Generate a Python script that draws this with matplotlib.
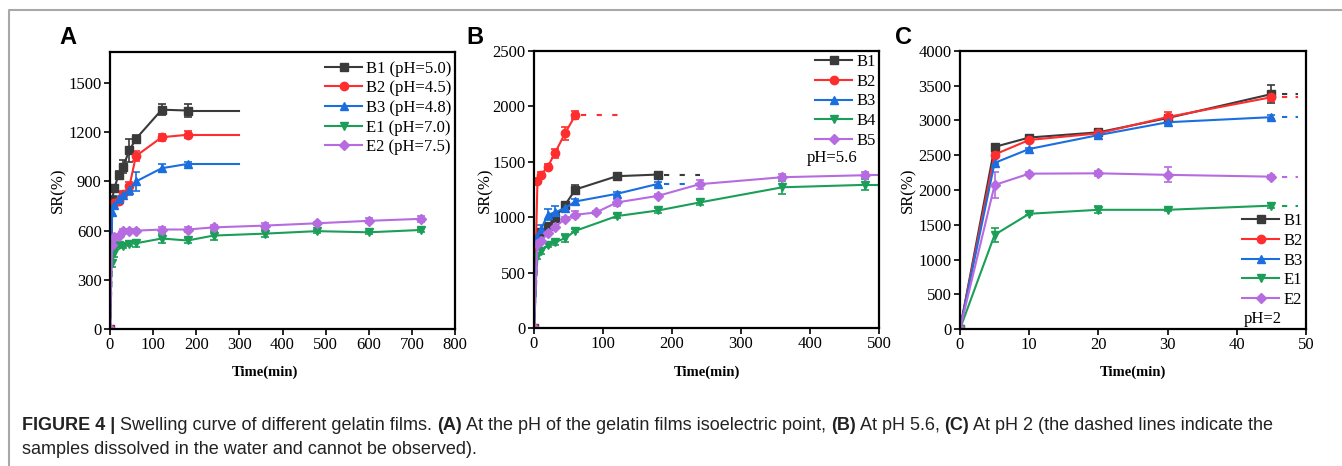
import matplotlib
matplotlib.use("Agg")
import matplotlib.pyplot as plt
from matplotlib.lines import Line2D
import numpy as np

# ---------------- data ----------------
# panel A (pH at isoelectric point)
tA_b = [0, 5, 10, 20, 30, 45, 60, 120, 180]
A_B1 = [0, 790, 860, 940, 990, 1090, 1160, 1338, 1333]
A_B1_err = [0, 20, 15, 25, 40, 70, 25, 35, 40]
A_B2 = [0, 760, 770, 780, 825, 870, 1055, 1170, 1185]
A_B2_err = [0, 15, 15, 15, 20, 25, 30, 20, 20]
A_B3 = [0, 715, 757, 794, 818, 849, 900, 981, 1007]
A_B3_err = [0, 20, 15, 15, 15, 30, 55, 25, 10]
A_end = 300

tA_e = [0, 5, 10, 20, 30, 45, 60, 120, 180, 240, 360, 480, 600, 720]
A_E1 = [0, 400, 462, 515, 507, 519, 523, 552, 540, 570, 582, 597, 590, 604]
A_E1_err = [0, 20, 25, 15, 15, 15, 20, 30, 15, 25, 20, 10, 10, 15]
A_E2 = [0, 511, 564, 568, 600, 600, 600, 607, 607, 620, 631, 645, 660, 672]
A_E2_err = [0, 10, 10, 10, 10, 10, 10, 15, 15, 15, 15, 10, 15, 20]
labels_A = ["B1 (pH=5.0)", "B2 (pH=4.5)", "B3 (pH=4.8)", "E1 (pH=7.0)", "E2 (pH=7.5)"]

# panel B (pH 5.6)
tB_1 = [0, 5, 10, 20, 30, 45, 60, 120, 180]
B_B1 = [0, 790, 870, 920, 990, 1110, 1250, 1370, 1385]
B_B1_err = [0, 20, 20, 20, 30, 30, 40, 15, 20]
B_B1_dis = 240
tB_2 = [0, 5, 10, 20, 30, 45, 60]
B_B2 = [0, 1328, 1382, 1457, 1575, 1758, 1920]
B_B2_err = [0, 20, 30, 25, 40, 60, 35]
B_B2_dis = 130
tB_3 = [0, 5, 10, 20, 30, 45, 60, 120, 180]
B_B3 = [0, 820, 892, 1022, 1043, 1082, 1142, 1211, 1301]
B_B3_err = [0, 20, 40, 50, 55, 30, 20, 20, 20]
B_B3_dis = 240
tB_4 = [0, 5, 10, 20, 30, 45, 60, 120, 180, 240, 360, 480]
B_B4 = [0, 646, 691, 751, 772, 811, 877, 1010, 1061, 1133, 1270, 1292]
B_B4_err = [0, 20, 20, 20, 20, 35, 15, 20, 20, 25, 60, 50]
B_B4_end = 500
tB_5 = [0, 5, 10, 20, 30, 45, 60, 90, 120, 180, 240, 360, 480]
B_B5 = [0, 760, 781, 856, 910, 983, 1022, 1043, 1133, 1193, 1298, 1361, 1379]
B_B5_err = [0, 20, 15, 15, 20, 15, 30, 15, 30, 15, 40, 25, 25]
B_B5_end = 500
labels_B = ["B1", "B2", "B3", "B4", "B5"]

# panel C (pH 2)
tC = [0, 5, 10, 20, 30, 45]
C_B1 = [0, 2620, 2755, 2830, 3035, 3380]
C_B1_err = [0, 40, 30, 30, 40, 130]
C_B2 = [0, 2510, 2720, 2815, 3050, 3335]
C_B2_err = [0, 30, 30, 50, 70, 60]
C_B3 = [0, 2390, 2590, 2790, 2975, 3048]
C_B3_err = [0, 20, 20, 60, 20, 30]
C_E1 = [0, 1355, 1658, 1715, 1715, 1775]
C_E1_err = [0, 100, 20, 50, 20, 40]
C_E2 = [0, 2072, 2235, 2240, 2218, 2192]
C_E2_err = [0, 180, 20, 40, 110, 30]
C_dis = (46.5, 48.8)
labels_C = ["B1", "B2", "B3", "E1", "E2"]

colors = ["#3a3a3a", "#ff2d2d", "#1a6ee0", "#1b9e57", "#b76be0"]
markers = ["s", "o", "^", "v", "D"]
msizes = [5.5, 6, 6, 6, 5]

# ---------------- figure ----------------
serif = ["Liberation Serif", "DejaVu Serif"]
sans = ["Liberation Sans", "DejaVu Sans"]
plt.rcParams["font.family"] = serif

fig = plt.figure(figsize=(13.42, 4.66), dpi=100)
W, H = 1342, 466


def make_ax(x0, y0, x1, y1):
    ax = fig.add_axes([x0 / W, 1 - y1 / H, (x1 - x0) / W, (y1 - y0) / H])
    for s in ax.spines.values():
        s.set_linewidth(1.6)
    ax.tick_params(direction="out", length=4, width=1.2, labelsize=12,
                   top=False, right=False, pad=2)
    return ax


def series(ax, t, y, err, i, dashed_first=False):
    c = colors[i]
    if dashed_first:
        ax.plot(t[:2], y[:2], color=c, lw=1.5, ls=(0, (3, 2)))
        t, y, err = t[1:], y[1:], err[1:]
    ax.errorbar(t, y, yerr=err, color=c, marker=markers[i], ms=msizes[i],
                lw=1.5, elinewidth=1.2, capsize=3, capthick=1.2)


def leg(ax, labels, loc, anchor):
    handles = [Line2D([], [], color=colors[i], marker=markers[i], ms=msizes[i],
                      lw=1.5) for i in range(len(labels))]
    return ax.legend(handles, labels, loc=loc, bbox_to_anchor=anchor,
                     frameon=False, fontsize=12, handlelength=2.2,
                     handletextpad=0.25, labelspacing=0.22, borderpad=0.1,
                     borderaxespad=0.0)


# panel A
axA = make_ax(110, 52, 455, 329)
series(axA, tA_b, A_B1, A_B1_err, 0)
series(axA, tA_b, A_B2, A_B2_err, 1)
series(axA, tA_b, A_B3, A_B3_err, 2)
series(axA, tA_e, A_E1, A_E1_err, 3, dashed_first=True)
series(axA, tA_e, A_E2, A_E2_err, 4)
axA.plot([tA_b[-1], A_end], [A_B1[-1]] * 2, color=colors[0], lw=1.5)
axA.plot([tA_b[-1], A_end], [A_B2[-1]] * 2, color=colors[1], lw=1.5)
axA.plot([tA_b[-1], A_end], [A_B3[-1]] * 2, color=colors[2], lw=1.5)
axA.set_xlim(0, 800)
axA.set_ylim(0, 1690)
axA.set_xticks(range(0, 801, 100))
axA.set_yticks(range(0, 1501, 300))
leg(axA, labels_A, "upper right", (0.995, 0.975))

# panel B
axB = make_ax(534, 51, 879, 328)
series(axB, tB_1, B_B1, B_B1_err, 0)
series(axB, tB_2, B_B2, B_B2_err, 1)
series(axB, tB_3, B_B3, B_B3_err, 2)
series(axB, tB_4, B_B4, B_B4_err, 3, dashed_first=True)
series(axB, tB_5, B_B5, B_B5_err, 4)
dot = (0, (2.5, 5))
axB.plot([tB_1[-1] + 8, B_B1_dis], [B_B1[-1]] * 2, color=colors[0], lw=1.5, ls=dot)
axB.plot([tB_2[-1] + 8, B_B2_dis], [B_B2[-1]] * 2, color=colors[1], lw=1.5, ls=dot)
axB.plot([tB_3[-1] + 8, B_B3_dis], [B_B3[-1]] * 2, color=colors[2], lw=1.5, ls=dot)
axB.plot([tB_4[-1], B_B4_end], [B_B4[-1]] * 2, color=colors[3], lw=1.5)
axB.plot([tB_5[-1], B_B5_end], [B_B5[-1]] * 2, color=colors[4], lw=1.5)
axB.set_xlim(0, 500)
axB.set_ylim(0, 2500)
axB.set_xticks(range(0, 501, 100))
axB.set_yticks(range(0, 2501, 500))
leg(axB, labels_B, "upper right", (0.995, 0.995))
axB.text(0.79, 0.612, "pH=5.6", transform=axB.transAxes, fontsize=12,
         ha="left", va="center")

# panel C
axC = make_ax(960, 51, 1306, 329)
c_sets = [(C_B1, C_B1_err), (C_B2, C_B2_err), (C_B3, C_B3_err),
          (C_E1, C_E1_err), (C_E2, C_E2_err)]
for i, (yv, ev) in enumerate(c_sets):
    series(axC, tC, yv, ev, i)
    axC.plot(list(C_dis), [yv[-1]] * 2, color=colors[i], lw=1.5, ls=(0, (2.5, 4)))
axC.set_xlim(0, 50)
axC.set_ylim(0, 4000)
axC.set_xticks(range(0, 51, 10))
axC.set_yticks(range(0, 4001, 500))
leg(axC, labels_C, "lower right", (0.995, 0.07))
axC.text(0.82, 0.035, "pH=2", transform=axC.transAxes, fontsize=12,
         ha="left", va="center")

# axis labels
for xc in [265, 707, 1133]:
    fig.text(xc / W, 1 - 372 / H, "Time(min)", ha="center", va="center",
             fontsize=10.5, fontweight="bold")
for yl_x in [58, 485, 908]:
    fig.text(yl_x / W, 1 - 190 / H, "SR(%)", ha="center", va="center",
             rotation=90, fontsize=12)

# panel letters
for lx, lt in [(68, "A"), (475, "B"), (903, "C")]:
    fig.text(lx / W, 1 - 38 / H, lt, ha="center", va="center", fontsize=17,
             fontweight="bold", family=sans)

# outer frame (top and left visible)
fig.add_artist(Line2D([9 / W, 9 / W, 1.0], [0.0, 1 - 10 / H, 1 - 10 / H],
                      transform=fig.transFigure, color="#a8a8a8", lw=1.5))

# caption with bold parts
cap_lines = [
    [("FIGURE 4 | ", True), ("Swelling curve of different gelatin films. ", False),
     ("(A)", True), (" At the pH of the gelatin films isoelectric point, ", False),
     ("(B)", True), (" At pH 5.6, ", False), ("(C)", True),
     (" At pH 2 (the dashed lines indicate the", False)],
    [("samples dissolved in the water and cannot be observed).", False)],
]
cap_y = [426, 449]
fig.canvas.draw()
rend = fig.canvas.get_renderer()
for segs, yy in zip(cap_lines, cap_y):
    xpos = 22
    for txt, bold in segs:
        t = fig.text(xpos / W, 1 - yy / H, txt, ha="left", va="center",
                     fontsize=13, fontweight="bold" if bold else "normal",
                     family=sans, color="#222222")
        bb = t.get_window_extent(renderer=rend)
        xpos = bb.x1

fig.savefig("out.png", dpi=100)
